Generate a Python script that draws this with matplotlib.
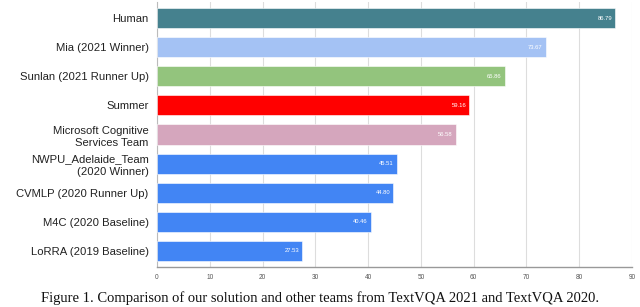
import matplotlib
matplotlib.use("Agg")
import matplotlib.pyplot as plt

categories = ["Human", "Mia (2021 Winner)", "Sunlan (2021 Runner Up)", "Summer",
              "Microsoft Cognitive\nServices Team", "NWPU_Adelaide_Team\n(2020 Winner)",
              "CVMLP (2020 Runner Up)", "M4C (2020 Baseline)", "LoRRA (2019 Baseline)"]
values = [86.79, 73.67, 65.86, 59.16, 56.58, 45.51, 44.80, 40.46, 27.53]
value_labels = ["86.79", "73.67", "65.86", "59.16", "56.58", "45.51", "44.80", "40.46", "27.53"]
colors = ["#45818e", "#a4c2f4", "#93c47d", "#ff0000", "#d5a6bd",
          "#4285f4", "#4285f4", "#4285f4", "#4285f4"]
xticks = [0, 10, 20, 30, 40, 50, 60, 70, 80, 90]
caption = "Figure 1. Comparison of our solution and other teams from TextVQA 2021 and TextVQA 2020."

plt.rcParams['font.family'] = ['Liberation Sans', 'DejaVu Sans']

fig = plt.figure(figsize=(6.4, 3.07), dpi=100)
ax = fig.add_axes([157/640, 1-267/307, (632-157)/640, (267-2)/307])

ypos = list(range(len(categories)))
bars = ax.barh(ypos, values, height=0.69, color=colors, edgecolor="white", linewidth=0.4, zorder=3)
for y, v, lab in zip(ypos, values, value_labels):
    ax.text(v - 0.6, y, lab, ha="right", va="center", color="white", fontsize=4.2, zorder=4)

ax.set_xlim(0, 90)
ax.set_ylim(8.55, -0.55)
ax.set_yticks(ypos)
ax.set_yticklabels(categories, fontsize=8.1, color="#222222", linespacing=1.3)
ax.set_xticks(xticks)
ax.set_xticklabels([str(t) for t in xticks], fontsize=4.7, color="#555555")
ax.tick_params(axis="both", length=0)
ax.tick_params(axis="y", pad=6)
ax.tick_params(axis="x", pad=5)
ax.grid(axis="x", color="#dddddd", linewidth=0.8, zorder=0)
for s in ["top", "right"]:
    ax.spines[s].set_visible(False)
ax.spines["left"].set_color("#bbbbbb")
ax.spines["left"].set_linewidth(0.8)
ax.spines["bottom"].set_color("#999999")
ax.spines["bottom"].set_linewidth(1.0)

fig.text(0.5, 1-298/307, caption, ha="center", va="center",
         fontsize=10.5, family=["Liberation Serif", "DejaVu Serif"], color="#111111")

fig.savefig("out.png", dpi=100)
